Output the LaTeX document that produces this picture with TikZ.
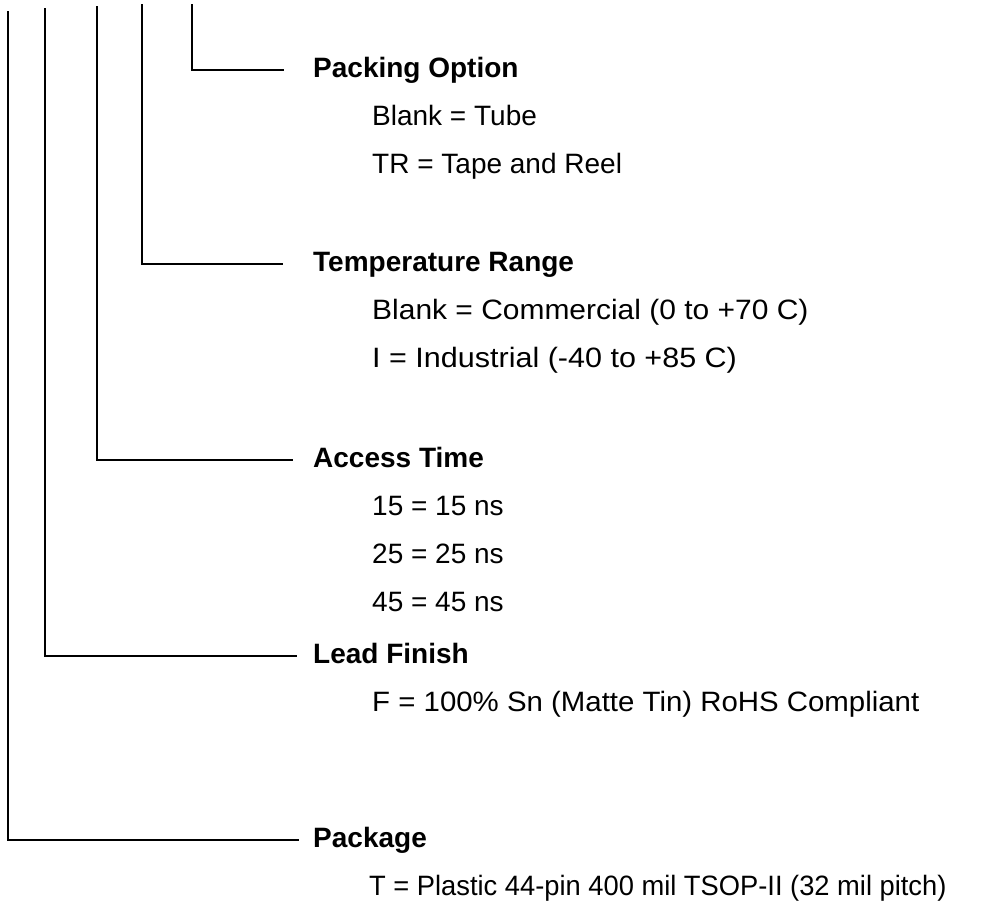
\documentclass[tikz,border=0pt]{standalone}
\usepackage{fontspec}
\setmainfont{Liberation Sans}
\tikzset{
  head/.style={anchor=base west, inner sep=0pt, font=\fontsize{28bp}{34bp}\selectfont\bfseries},
  item/.style={anchor=base west, inner sep=0pt, font=\fontsize{28bp}{34bp}\selectfont},
  lead/.style={line width=1.6bp, line cap=butt},
}
\begin{document}
\begin{tikzpicture}[x=1bp,y=-1bp]
\useasboundingbox (0,0) rectangle (982,907);
% Packing Option
\node[head] (h1) at (313,77) {Packing Option};
\node[item] (i11) at (372,125) {Blank = Tube};
\node[item] (i12) at (372,173) {TR = Tape and Reel};
% Temperature Range
\node[head] (h2) at (313,271) {Temperature Range};
\node[item, xscale=1.07] (i21) at (372,319) {Blank = Commercial (0 to +70 C)};
\node[item, xscale=1.09] (i22) at (372,367) {I = Industrial (-40 to +85 C)};
% Access Time
\node[head] (h3) at (313,467) {Access Time};
\node[item] (i31) at (372,515) {15 = 15 ns};
\node[item] (i32) at (372,563) {25 = 25 ns};
\node[item] (i33) at (372,611) {45 = 45 ns};
% Lead Finish
\node[head] (h4) at (313,663) {Lead Finish};
\node[item, xscale=1.05] (i41) at (372,711) {F = 100\% Sn (Matte Tin) RoHS Compliant};
% Package
\node[head] (h5) at (313,847) {Package};
\node[item, xscale=0.975] (i51) at (369,895) {T = Plastic 44-pin 400 mil TSOP-II (32 mil pitch)};
% connectors
\coordinate (t1) at (192,4);  \coordinate (e1) at (284,70);
\coordinate (t2) at (142,4);  \coordinate (e2) at (283,264);
\coordinate (t3) at (97,6);   \coordinate (e3) at (293,460);
\coordinate (t4) at (45,8);   \coordinate (e4) at (297,656);
\coordinate (t5) at (8,11);   \coordinate (e5) at (299,840);
\draw[lead] (t1) |- (e1);
\draw[lead] (t2) |- (e2);
\draw[lead] (t3) |- (e3);
\draw[lead] (t4) |- (e4);
\draw[lead] (t5) |- (e5);
\end{tikzpicture}
\end{document}
